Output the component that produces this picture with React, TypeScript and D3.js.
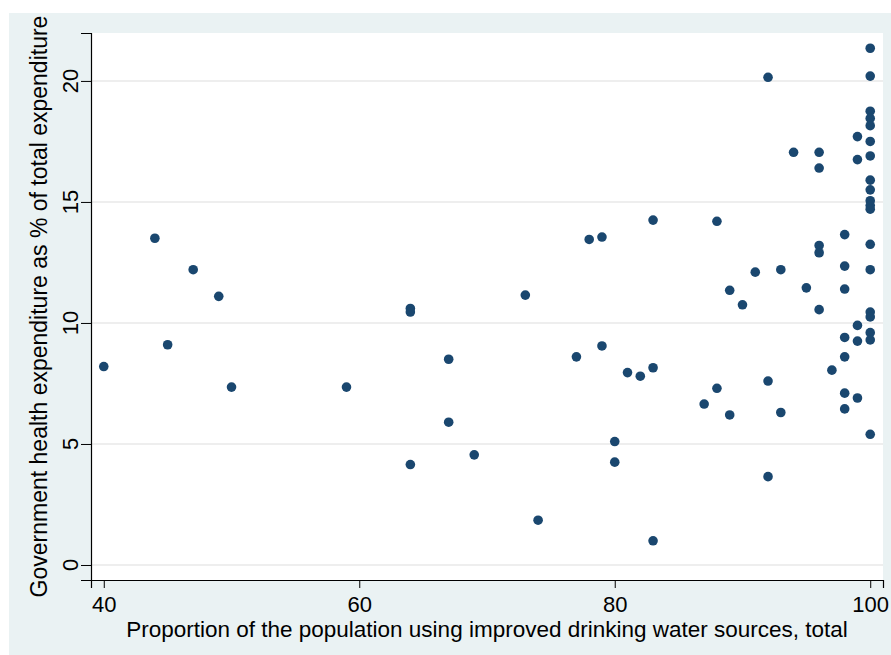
import React, { useEffect, useRef } from "react";
import * as d3 from "d3";

// proportion of population using improved drinking water (x)
const waterAccess = [
  40, 44, 45, 47, 49, 50, 59, 64, 64, 64, 67, 67, 69, 73, 74, 77, 78, 79, 79,
  80, 80, 81, 82, 83, 83, 83, 87, 88, 88, 89, 89, 90, 91, 92, 92, 92, 93, 93,
  94, 95, 96, 96, 96, 96, 96, 97, 98, 98, 98, 98, 98, 98, 98, 99, 99, 99, 99,
  99, 100, 100, 100, 100, 100, 100, 100, 100, 100, 100, 100, 100, 100, 100,
  100, 100, 100, 100, 100,
];

// government health expenditure as % of total expenditure (y)
const healthSpend = [
  8.2, 13.5, 9.1, 12.2, 11.1, 7.35, 7.35, 10.6, 10.45, 4.15, 8.5, 5.9, 4.55,
  11.15, 1.85, 8.6, 13.45, 13.55, 9.05, 5.1, 4.25, 7.95, 7.8, 14.25, 8.15, 1.0,
  6.65, 14.2, 7.3, 11.35, 6.2, 10.75, 12.1, 20.15, 7.6, 3.65, 12.2, 6.3, 17.05,
  11.45, 17.05, 16.4, 13.2, 12.9, 10.55, 8.05, 13.65, 12.35, 11.4, 9.4, 8.6,
  7.1, 6.45, 17.7, 16.75, 9.9, 9.25, 6.9, 21.35, 20.2, 18.75, 18.45, 18.15,
  17.5, 16.9, 15.9, 15.5, 15.05, 14.85, 14.7, 13.25, 12.2, 10.45, 10.25, 9.6,
  9.3, 5.4,
];

const xTicks = [40, 60, 80, 100];
const yTicks = [0, 5, 10, 15, 20];

const xTitle =
  "Proportion of the population using improved drinking water sources, total";
const yTitle = "Government health expenditure as % of total expenditure";

const W = 891;
const H = 655;
const FONT = "'Liberation Sans', Arial, sans-serif";

export default function App() {
  const ref = useRef<SVGSVGElement | null>(null);

  useEffect(() => {
    const svg = d3.select(ref.current);
    svg.selectAll("*").remove();

    const left = 91;
    const right = 883;
    const top = 33;
    const bottom = 580;

    const x = d3.scaleLinear().domain([39, 101]).range([left, right]);
    const y = d3.scaleLinear().domain([-0.62, 21.98]).range([bottom, top]);

    // graph region + plot region
    svg
      .append("rect")
      .attr("x", 9)
      .attr("y", 13)
      .attr("width", W - 9)
      .attr("height", H - 13)
      .attr("fill", "#eaf2f3");
    svg
      .append("rect")
      .attr("x", left)
      .attr("y", top)
      .attr("width", right - left)
      .attr("height", bottom - top)
      .attr("fill", "#ffffff");

    // grid lines
    svg
      .append("g")
      .selectAll("line")
      .data(yTicks)
      .join("line")
      .attr("x1", left)
      .attr("x2", right)
      .attr("y1", (d) => y(d))
      .attr("y2", (d) => y(d))
      .attr("stroke", "#eeeeee")
      .attr("stroke-width", 2);

    // x axis
    const xAxis = svg
      .append("g")
      .attr("transform", `translate(0,${bottom})`)
      .call(d3.axisBottom(x).tickValues(xTicks).tickSize(8).tickPadding(8));
    xAxis.select(".domain").attr("stroke", "#000").attr("stroke-width", 1.2);
    xAxis.selectAll(".tick line").attr("stroke", "#000");
    xAxis
      .selectAll(".tick text")
      .attr("fill", "#000")
      .style("font-family", FONT)
      .style("font-size", "22px");

    // y axis, labels rotated
    const yAxis = svg
      .append("g")
      .attr("transform", `translate(${left},0)`)
      .call(d3.axisLeft(y).tickValues(yTicks).tickSize(10).tickFormat(() => ""));
    yAxis.select(".domain").attr("stroke", "#000").attr("stroke-width", 1.2);
    yAxis.selectAll(".tick line").attr("stroke", "#000");

    svg
      .append("g")
      .selectAll("text")
      .data(yTicks)
      .join("text")
      .attr("transform", (d) => `translate(78,${y(d)}) rotate(-90)`)
      .attr("text-anchor", "middle")
      .attr("fill", "#000")
      .style("font-family", FONT)
      .style("font-size", "22px")
      .text((d) => d);

    // axis titles
    svg
      .append("text")
      .attr("x", (left + right) / 2)
      .attr("y", 637)
      .attr("text-anchor", "middle")
      .attr("fill", "#000")
      .style("font-family", FONT)
      .style("font-size", "22.5px")
      .text(xTitle);

    svg
      .append("text")
      .attr("transform", `translate(47,${(top + bottom) / 2}) rotate(-90)`)
      .attr("text-anchor", "middle")
      .attr("fill", "#000")
      .style("font-family", FONT)
      .style("font-size", "23px")
      .text(yTitle);

    // points
    const pts = waterAccess.map((w, i) => [w, healthSpend[i]]);
    svg
      .append("g")
      .selectAll("circle")
      .data(pts)
      .join("circle")
      .attr("cx", (d) => x(d[0]))
      .attr("cy", (d) => y(d[1]))
      .attr("r", 4.8)
      .attr("fill", "#1a476f");
  }, []);

  return (
    <svg
      ref={ref}
      width={W}
      height={H}
      style={{ position: "absolute", left: 0, top: 0, background: "#fff" }}
    />
  );
}
